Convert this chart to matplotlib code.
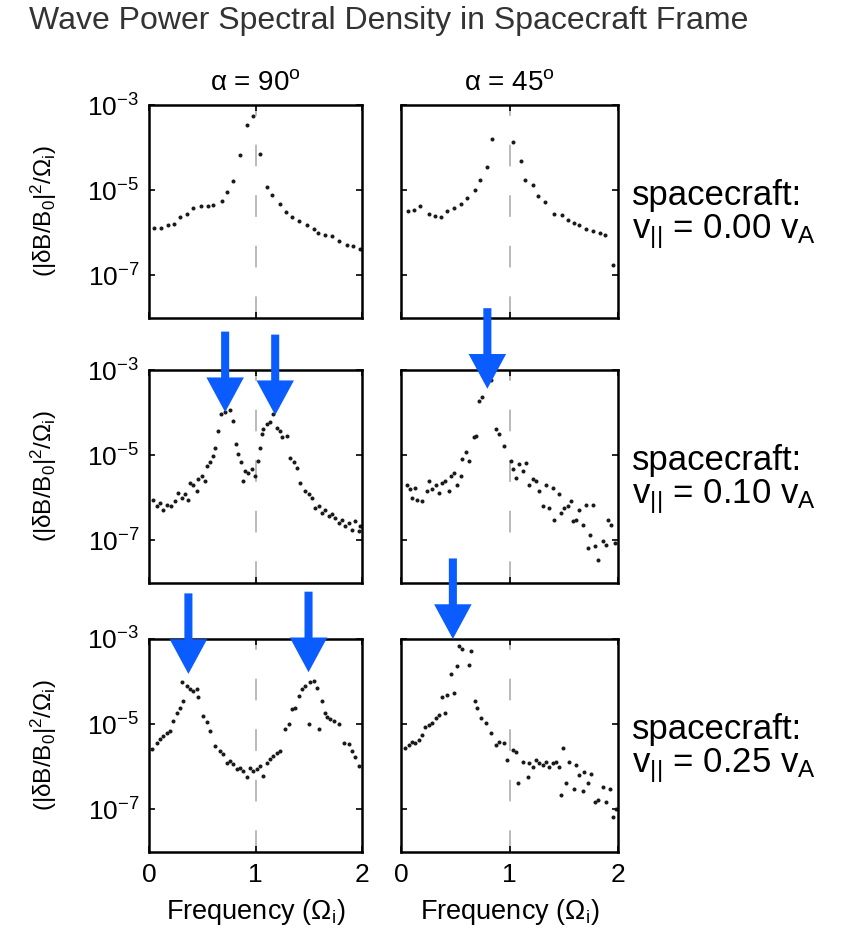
"""Wave power spectral density in spacecraft frame."""
import matplotlib
matplotlib.use('Agg')
import matplotlib.pyplot as plt
import numpy as np

plt.rcParams['font.family'] = ['Liberation Sans', 'DejaVu Sans']
plt.rcParams['mathtext.fontset'] = 'custom'
plt.rcParams['mathtext.rm'] = 'Liberation Sans'
plt.rcParams['mathtext.it'] = 'Liberation Sans:italic'
plt.rcParams['mathtext.bf'] = 'Liberation Sans:bold'

# frequency (Omega_i) and log10 power for each panel
# row 1: v_par = 0.00 v_A
f_90_a = [0.05, 0.113, 0.176, 0.238, 0.29, 0.354, 0.417, 0.489, 0.558, 0.605,
          0.683, 0.73, 0.793, 0.85, 0.918, 0.981, 1.038, 1.107, 1.154, 1.232,
          1.285, 1.342, 1.41, 1.48, 1.545, 1.59, 1.655, 1.718, 1.78, 1.859,
          1.92, 1.984]
lg_90_a = [-5.89, -5.89, -5.81, -5.79, -5.62, -5.55, -5.41, -5.38, -5.36, -5.34,
           -5.26, -5.05, -4.79, -4.18, -3.46, -3.26, -4.16, -4.92, -5.11, -5.33,
           -5.51, -5.64, -5.73, -5.81, -5.92, -6.0, -6.04, -6.08, -6.19, -6.29,
           -6.32, -6.38]
f_45_a = [0.062, 0.117, 0.173, 0.256, 0.309, 0.37, 0.426, 0.488, 0.556, 0.605,
          0.679, 0.728, 0.79, 0.843, 1.028, 1.105, 1.142, 1.213, 1.265, 1.327,
          1.414, 1.481, 1.543, 1.593, 1.645, 1.707, 1.769, 1.83, 1.883, 1.954]
lg_45_a = [-5.49, -5.46, -5.38, -5.56, -5.61, -5.64, -5.49, -5.41, -5.33, -5.18,
           -5.0, -4.77, -4.45, -3.79, -3.86, -4.32, -4.77, -4.88, -5.13, -5.28,
           -5.55, -5.58, -5.71, -5.76, -5.81, -5.92, -5.96, -6.0, -6.06, -6.76]

# row 2: v_par = 0.10 v_A
f_90_b = [0.041, 0.072, 0.103, 0.135, 0.166, 0.207, 0.245, 0.276, 0.307, 0.339,
          0.37, 0.386, 0.417, 0.448, 0.464, 0.495, 0.527, 0.542, 0.574, 0.605,
          0.621, 0.652, 0.677, 0.715, 0.762, 0.793, 0.815, 0.84, 0.865, 0.887,
          0.903, 0.934, 0.966, 0.997, 1.028, 1.044, 1.06, 1.075, 1.107, 1.138,
          1.169, 1.2, 1.232, 1.248, 1.295, 1.326, 1.357, 1.389, 1.42, 1.467,
          1.498, 1.53, 1.561, 1.592, 1.624, 1.655, 1.687, 1.718, 1.749, 1.781,
          1.812, 1.843, 1.875, 1.906, 1.937, 1.969, 1.984]
lg_90_b = [-6.04, -6.2, -6.12, -6.28, -6.16, -6.2, -6.08, -5.88, -6.0, -5.92,
           -6.04, -5.65, -5.69, -5.84, -5.57, -5.49, -5.61, -5.25, -5.17, -5.02,
           -4.82, -4.43, -4.03, -3.99, -3.95, -4.19, -4.74, -4.98, -5.17, -5.61,
           -5.37, -5.41, -5.33, -5.49, -5.13, -4.82, -4.5, -4.39, -4.27, -4.23,
           -4.03, -4.35, -4.43, -4.58, -4.54, -5.06, -5.17, -5.29, -5.65, -5.84,
           -5.92, -6.0, -6.24, -6.2, -6.35, -6.28, -6.43, -6.39, -6.47, -6.59,
           -6.51, -6.67, -6.59, -6.75, -6.55, -6.79, -6.67]
f_45_b = [0.056, 0.086, 0.102, 0.133, 0.148, 0.194, 0.241, 0.256, 0.287, 0.318,
          0.349, 0.38, 0.41, 0.441, 0.457, 0.488, 0.519, 0.549, 0.565, 0.596,
          0.627, 0.673, 0.688, 0.719, 0.75, 0.827, 0.873, 0.904, 0.951, 1.012,
          1.028, 1.059, 1.09, 1.12, 1.151, 1.182, 1.213, 1.244, 1.275, 1.306,
          1.336, 1.367, 1.398, 1.414, 1.46, 1.475, 1.506, 1.537, 1.568, 1.583,
          1.614, 1.645, 1.676, 1.707, 1.738, 1.769, 1.722, 1.784, 1.815, 1.861,
          1.892, 1.907, 1.938, 1.969]
lg_45_b = [-5.69, -5.8, -6.0, -5.76, -6.04, -6.08, -5.84, -5.61, -5.8, -5.69,
           -5.88, -5.65, -5.61, -5.84, -5.49, -5.41, -5.69, -5.49, -5.09, -4.92,
           -5.13, -4.58, -4.56, -3.72, -3.64, -3.24, -4.39, -4.5, -4.78, -5.13,
           -5.33, -5.53, -5.21, -5.37, -5.19, -5.69, -5.57, -5.61, -5.84, -6.2,
           -5.69, -6.24, -5.76, -6.51, -5.92, -6.35, -6.24, -6.2, -6.08, -6.55,
           -6.51, -6.28, -6.63, -6.16, -6.87, -6.16, -7.18, -7.14, -7.46, -7.02,
           -7.1, -6.51, -6.63, -7.06]

# row 3: v_par = 0.25 v_A
f_90_c = [0.031, 0.072, 0.103, 0.135, 0.166, 0.197, 0.229, 0.26, 0.292, 0.323,
          0.307, 0.354, 0.386, 0.417, 0.448, 0.464, 0.511, 0.542, 0.574, 0.621,
          0.668, 0.699, 0.73, 0.762, 0.793, 0.824, 0.856, 0.887, 0.918, 0.95,
          0.981, 1.013, 1.044, 1.075, 1.107, 1.138, 1.169, 1.2, 1.232, 1.279,
          1.31, 1.342, 1.373, 1.404, 1.436, 1.467, 1.498, 1.514, 1.545, 1.577,
          1.592, 1.624, 1.655, 1.671, 1.702, 1.734, 1.781, 1.828, 1.875, 1.906,
          1.937, 1.969]
lg_90_c = [-5.59, -5.43, -5.35, -5.27, -5.2, -5.16, -4.92, -4.73, -4.61, -4.45,
           -4.02, -4.1, -4.18, -4.22, -4.18, -4.37, -4.8, -4.96, -5.16, -5.51,
           -5.63, -5.71, -5.9, -5.86, -5.94, -6.06, -6.02, -6.1, -6.25, -6.02,
           -6.1, -6.06, -5.98, -6.22, -5.9, -5.82, -5.75, -5.67, -5.63, -5.12,
           -5.0, -4.65, -4.61, -4.33, -4.18, -4.1, -5.0, -4.02, -3.98, -4.14,
           -5.12, -4.45, -4.73, -4.84, -4.88, -4.92, -5.0, -5.43, -5.47, -5.63,
           -5.78, -5.98]
f_45_c = [0.04, 0.071, 0.102, 0.133, 0.164, 0.194, 0.225, 0.256, 0.287, 0.318,
          0.349, 0.38, 0.41, 0.426, 0.457, 0.488, 0.519, 0.534, 0.565, 0.627,
          0.648, 0.679, 0.704, 0.735, 0.781, 0.827, 0.873, 0.904, 0.951, 0.981,
          1.028, 1.059, 1.074, 1.12, 1.167, 1.182, 1.213, 1.244, 1.275, 1.306,
          1.336, 1.367, 1.398, 1.429, 1.46, 1.475, 1.497, 1.522, 1.552, 1.599,
          1.614, 1.645, 1.676, 1.691, 1.722, 1.753, 1.784, 1.815, 1.861, 1.892,
          1.923, 1.954, 1.985]
lg_45_c = [-5.57, -5.49, -5.41, -5.45, -5.37, -5.25, -5.06, -5.02, -4.98, -4.86,
           -4.78, -4.35, -4.74, -4.31, -3.83, -4.27, -3.64, -3.17, -3.24, -3.61,
           -3.28, -4.46, -4.62, -4.86, -4.98, -5.21, -5.49, -5.41, -5.45, -5.84,
           -5.61, -5.65, -6.39, -5.88, -6.24, -5.92, -6.0, -5.84, -5.92, -5.96,
           -5.88, -6.0, -5.92, -5.88, -6.0, -6.67, -5.57, -6.39, -5.88, -6.51,
           -5.96, -6.2, -6.57, -6.12, -6.39, -6.16, -6.83, -6.79, -6.47, -6.83,
           -6.51, -7.18, -6.98]

f_data = [[f_90_a, f_45_a], [f_90_b, f_45_b], [f_90_c, f_45_c]]
lg_data = [[lg_90_a, lg_45_a], [lg_90_b, lg_45_b], [lg_90_c, lg_45_c]]

speeds = ['0.00', '0.10', '0.25']
angles = ['90', '45']

# peaks marked with arrows: (row, col, freq, log10 power)
arrow_f = [0.715, 1.185, 0.796, 0.37, 1.498, 0.478]
arrow_lg = [-3.99, -4.06, -3.44, -3.82, -3.78, -3.0]
arrow_row = [1, 1, 1, 2, 2, 2]
arrow_col = [0, 0, 1, 0, 0, 1]


def main():
    """Draw figure."""
    fig = plt.figure(figsize=(8.47, 9.35), dpi=100)

    lefts = [149 / 847, 401 / 847]
    widths = [213 / 847, 217 / 847]
    bottoms = [1 - 318 / 935, 1 - 583 / 935, 1 - 852 / 935]
    height = 213 / 935

    axes = [[None, None] for _ in range(3)]
    for r in range(3):
        for c in range(2):
            ax = fig.add_axes([lefts[c], bottoms[r], widths[c], height])
            axes[r][c] = ax
            ax.axvline(1.0, color='#b4b4b4', lw=1.3, ls=(0, (12, 16)),
                       zorder=1)
            ax.plot(f_data[r][c], 10.0 ** np.array(lg_data[r][c]), ls='none',
                    marker='.', ms=3.8, color='#1a1a1a', zorder=2)
            ax.set_yscale('log')
            ax.set_xlim(0, 2)
            ax.set_ylim(1e-8, 1e-3)
            ax.set_yticks([1e-7, 1e-5, 1e-3])
            ax.yaxis.set_minor_locator(matplotlib.ticker.NullLocator())
            ax.set_xticks([0, 1, 2])
            ax.tick_params(direction='in', length=4, width=1.2,
                           top=True, right=True, labelsize=19, colors='black')
            ax.tick_params(axis='x', pad=8)
            ax.tick_params(axis='y', pad=7)
            for sp in ax.spines.values():
                sp.set_linewidth(1.8)
            if c == 1:
                ax.set_yticklabels([])
            if r < 2:
                ax.set_xticklabels([])
            else:
                ax.set_xlabel('Frequency (Ω$_\\mathrm{i}$)', fontsize=19.5,
                              labelpad=7)
            if r == 0:
                ax.set_title('α = %s$^\\mathrm{o}$' % angles[c], fontsize=20,
                             pad=11)
        yc = bottoms[r] + height / 2
        fig.text(0.052, yc, '(|δB/B$_\\mathrm{0}$|$^2$/Ω$_\\mathrm{i}$)',
                 rotation=90, ha='center', va='center', fontsize=17.5)
        fig.text(632 / 847, yc - 0.004,
                 'spacecraft:\nv$_{||}$ = %s v$_\\mathrm{A}$' % speeds[r],
                 ha='left', va='center', fontsize=25, linespacing=1.0)

    for i in range(len(arrow_f)):
        ax = axes[arrow_row[i]][arrow_col[i]]
        ax.annotate('', xy=(arrow_f[i], 10.0 ** arrow_lg[i]),
                    xytext=(0, 58), textcoords='offset points',
                    annotation_clip=False, zorder=5,
                    arrowprops=dict(facecolor='#0a5cff', edgecolor='none',
                                    width=5.8, headwidth=27, headlength=25,
                                    shrink=0))

    fig.text(0.459, 0.978, 'Wave Power Spectral Density in Spacecraft Frame',
             ha='center', va='center', fontsize=23, color='#333333')

    fig.savefig('out.png', dpi=100)


if __name__ == "__main__":
    main()
